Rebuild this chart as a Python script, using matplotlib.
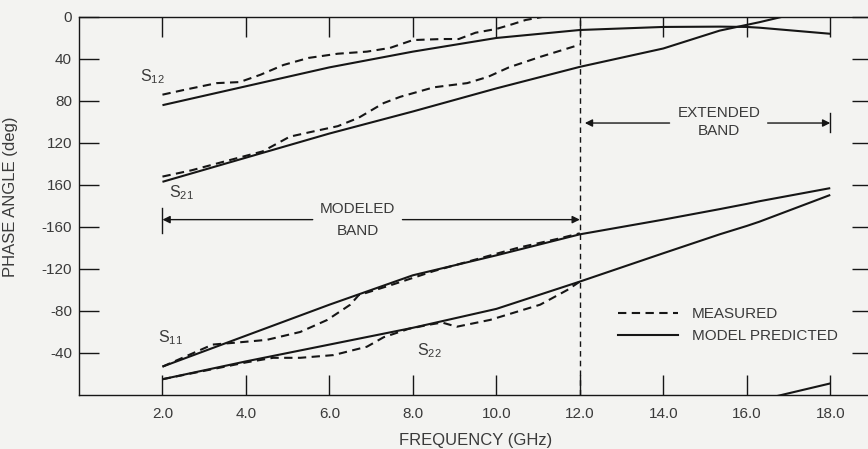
import matplotlib
matplotlib.use("Agg")
import matplotlib.pyplot as plt
import numpy as np

plt.rcParams['font.family'] = ['Liberation Sans', 'DejaVu Sans']
plt.rcParams['mathtext.fontset'] = 'custom'
plt.rcParams['mathtext.rm'] = 'Liberation Sans'
plt.rcParams['mathtext.it'] = 'Liberation Sans'

# phase in degrees, 0 at the top of the chart and increasing downwards
# values past 360 / below 0 wrap round the chart
freq_model = [2.0, 4.0, 6.0, 8.0, 10.0, 12.0, 14.0, 15.35, 16.0, 16.3, 18.0]
s12_model = [84, 66, 48, 33, 20, 12.4, 9.5, 9.2, 9.5, 10.2, 16]
s21_model = [157, 134, 111, 90, 68, 47.5, 30, 13, 7.5, 5, -11]
s11_model = [333, 303.5, 274, 246, 227, 207, 193, 183, 178, 175.5, 163]
s22_model = [345, 328, 312, 296, 278, 252, 225, 207, 199, 195, 169.5]

s12_freq = [2.0, 2.5, 3.3, 3.85, 4.35, 4.9, 5.5, 6.2, 6.9, 7.45, 8.0, 8.7, 9.1,
            9.5, 10.0, 10.4, 10.7, 11.1]
s12_meas = [74, 69.6, 63, 62, 55, 45.7, 39, 35, 33, 29.5, 22, 21, 21,
            15, 11.4, 6.7, 2.9, 0]

s21_freq = [2.0, 2.7, 3.45, 4.4, 5.05, 5.5, 6.2, 6.7, 7.3, 7.7, 8.5, 9.3, 9.8,
            10.3, 11.05, 11.9, 12.0]
s21_meas = [152, 146, 138, 128, 114, 110, 104, 96, 82, 76, 67, 63, 57,
            48, 38, 27.6, 26]

s11_freq = [2.0, 3.2, 3.8, 4.5, 5.3, 5.95, 6.5, 6.7, 7.5, 8.5, 9.5, 10.5,
            11.5, 12.0]
s11_meas = [333, 312, 310, 307.5, 300, 288.5, 274, 265, 255, 242, 231, 220,
            211, 206]

s22_freq = [2.0, 3.0, 4.0, 4.65, 5.3, 6.1, 6.9, 7.3, 7.9, 8.4, 8.7, 9.05,
            9.85, 11.05, 11.7, 12.0]
s22_meas = [345, 337, 329, 324.6, 324.6, 322, 314, 305, 297, 293, 291, 295,
            288.5, 274, 260, 252]

xtick_vals = [2, 4, 6, 8, 10, 12, 14, 16, 18]
ytick_vals = [0, 40, 80, 120, 160, 200, 240, 280, 320]

INK = '#161616'
TXT = '#3a3a3a'
BG = '#f3f3f1'
dash = (0, (4, 2.6))

fig = plt.figure(figsize=(8.68, 4.49), dpi=100, facecolor=BG)
ax = fig.add_axes([0.091, 0.1203, 0.9136, 0.8419], facecolor=BG)


def wrapped(x, y, **kw):
    y = np.asarray(y, dtype=float)
    ax.plot(x, y, **kw)
    if y.min() < 0:
        ax.plot(x, y + 360, **kw)


# model curves
for vals in (s12_model, s21_model, s11_model, s22_model):
    wrapped(freq_model, vals, color=INK, lw=1.5, solid_capstyle='butt')

# measured curves
for fx, vals in ((s12_freq, s12_meas), (s21_freq, s21_meas),
                 (s11_freq, s11_meas), (s22_freq, s22_meas)):
    ax.plot(fx, vals, color=INK, lw=1.5, ls=dash)

ax.set_xlim(0, 19)
ax.set_ylim(360, 0)

ax.set_xticks(xtick_vals)
ax.set_xticklabels(['%.1f' % v for v in xtick_vals])
ax.set_yticks(ytick_vals)
ax.set_yticklabels([str(v if v <= 180 else v - 360) for v in ytick_vals])

ax.tick_params(axis='both', direction='in', length=14.5, width=1.0,
               color=INK, labelcolor=TXT, labelsize=11)
ax.tick_params(axis='x', top=True, pad=9)
ax.tick_params(axis='y', right=True, pad=5)

for s in ax.spines.values():
    s.set_color(INK)
    s.set_linewidth(1.0)

ax.set_xlabel('FREQUENCY (GHz)', fontsize=12, color=TXT, labelpad=8)
ax.set_ylabel('PHASE ANGLE (deg)', fontsize=12, color=TXT)
ax.yaxis.set_label_coords(-0.077, 0.524)

# boundary between modeled and extended band
ax.axvline(12, color=INK, lw=1.0, ls=(0, (4, 3)))

arrow = dict(arrowstyle='-|>', color=INK, lw=1.0, shrinkA=0, shrinkB=0,
             mutation_scale=11)
# modeled band
ax.annotate('', xy=(2.0, 193), xytext=(5.6, 193), arrowprops=arrow)
ax.annotate('', xy=(12.0, 193), xytext=(7.75, 193), arrowprops=arrow)
ax.plot([2.0, 2.0], [182, 206], color=INK, lw=1.0)
ax.text(6.68, 183, 'MODELED', ha='center', va='center', fontsize=11,
        color=TXT)
ax.text(6.68, 204, 'BAND', ha='center', va='center', fontsize=11, color=TXT)

# extended band
ax.annotate('', xy=(12.12, 101), xytext=(14.15, 101), arrowprops=arrow)
ax.annotate('', xy=(18.0, 101), xytext=(16.5, 101), arrowprops=arrow)
ax.plot([18.0, 18.0], [91, 110], color=INK, lw=1.0)
ax.text(15.33, 91, 'EXTENDED', ha='center', va='center', fontsize=11,
        color=TXT)
ax.text(15.33, 108.5, 'BAND', ha='center', va='center', fontsize=11,
        color=TXT)

# curve names
ax.text(1.45, 57, 'S$_{12}$', fontsize=11.5, color=TXT, va='center')
ax.text(2.15, 167, 'S$_{21}$', fontsize=11.5, color=TXT, va='center')
ax.text(1.9, 305, 'S$_{11}$', fontsize=11.5, color=TXT, va='center')
ax.text(8.1, 318, 'S$_{22}$', fontsize=11.5, color=TXT, va='center')

# key
ax.plot([], [], color=INK, lw=1.5, ls=dash, label='MEASURED')
ax.plot([], [], color=INK, lw=1.5, label='MODEL PREDICTED')
handles, labels = ax.get_legend_handles_labels()
leg = ax.legend(handles[-2:], labels[-2:], loc='upper left',
                bbox_to_anchor=(0.68, 0.233), frameon=False, fontsize=11,
                handlelength=3.9, handletextpad=0.9, labelspacing=0.55,
                borderaxespad=0, borderpad=0)
for t in leg.get_texts():
    t.set_color(TXT)

fig.savefig('out.png', dpi=100, facecolor=BG)
